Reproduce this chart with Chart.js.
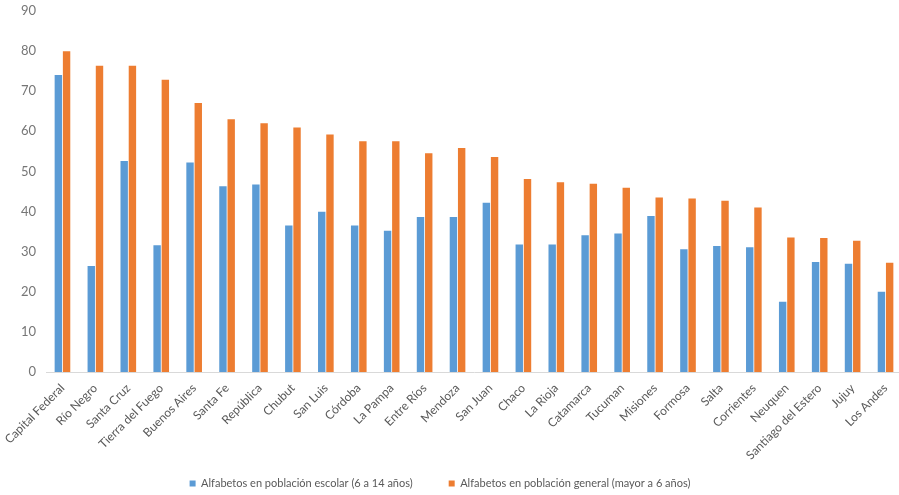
<!DOCTYPE html>
<html>
<head>
<meta charset="utf-8">
<script src="https://cdn.jsdelivr.net/npm/chart.js@4.4.1/dist/chart.umd.min.js"></script>
<style>
  html, body { margin: 0; padding: 0; background: #ffffff; overflow: hidden; }
  #wrap { width: 905px; height: 506px; margin-top: -7px; position: relative; }
</style>
</head>
<body>
<div id="wrap"><canvas id="c"></canvas></div>
<script>
const categories = ["Capital Federal", "Río Negro", "Santa Cruz", "Tierra del Fuego", "Buenos Aires", "Santa Fe", "República", "Chubut", "San Luis", "Córdoba", "La Pampa", "Entre Ríos", "Mendoza", "San Juan", "Chaco", "La Rioja", "Catamarca", "Tucuman", "Misiones", "Formosa", "Salta", "Corrientes", "Neuquen", "Santiago del Estero", "Jujuy", "Los Andes"];
const seriesNames = ["Alfabetos en población escolar (6 a 14 años)", "Alfabetos en población general (mayor a 6 años)"];
const escolar = [74.0, 26.4, 52.6, 31.6, 52.2, 46.3, 46.7, 36.5, 39.9, 36.5, 35.2, 38.6, 38.6, 42.2, 31.8, 31.8, 34.1, 34.5, 38.9, 30.6, 31.4, 31.1, 17.5, 27.4, 27.0, 20.0];
const general = [79.9, 76.3, 76.3, 72.8, 67.0, 63.0, 62.0, 60.9, 59.2, 57.5, 57.5, 54.5, 55.8, 53.6, 48.1, 47.3, 46.9, 45.9, 43.5, 43.2, 42.7, 41.0, 33.5, 33.4, 32.7, 27.2];
const yTicks = [0, 10, 20, 30, 40, 50, 60, 70, 80, 90];

const FONT = "Lato, 'Open Sans', sans-serif";

const layoutTweaks = {
  id: 'layoutTweaks',
  afterLayout(chart) {
    if (chart.legend) { chart.legend.left -= 11; chart.legend.right -= 11; }
    if (chart.scales.x) { chart.scales.x._computeLabelArea = () => undefined; }
  }
};

new Chart(document.getElementById('c'), {
  type: 'bar',
  data: {
    labels: categories,
    datasets: [
      { label: seriesNames[0], data: escolar, backgroundColor: '#5B9BD5', categoryPercentage: 0.5, barPercentage: 0.9 },
      { label: seriesNames[1], data: general, backgroundColor: '#ED7D31', categoryPercentage: 0.5, barPercentage: 0.9 }
    ]
  },
  plugins: [layoutTweaks],
  options: {
    responsive: true,
    maintainAspectRatio: false,
    animation: false,
    layout: { padding: { top: 0, right: 3, left: 0, bottom: 0 } },
    plugins: {
      legend: {
        position: 'bottom',
        labels: { boxWidth: 6, boxHeight: 6, padding: 36, color: '#595959', font: { family: FONT, size: 11 } }
      },
      tooltip: { enabled: false }
    },
    scales: {
      x: {
        grid: { display: false, drawTicks: false },
        border: { display: true, color: '#D9D9D9', width: 1 },
        ticks: { maxRotation: 45, minRotation: 45, autoSkip: false, color: '#595959', padding: 9, font: { family: FONT, size: 12 } },
        afterFit: s => { s.height = 70; s.paddingLeft = 0; s.paddingRight = 0; }
      },
      y: {
        min: 0, max: 90,
        afterBuildTicks: s => { s.ticks = yTicks.map(v => ({ value: v })); },
        grid: { display: false, drawTicks: false },
        border: { display: false },
        ticks: { color: '#767676', padding: 10, font: { family: FONT, size: 13 } },
        afterFit: s => { s.width = 46; }
      }
    }
  }
});
</script>
</body>
</html>
